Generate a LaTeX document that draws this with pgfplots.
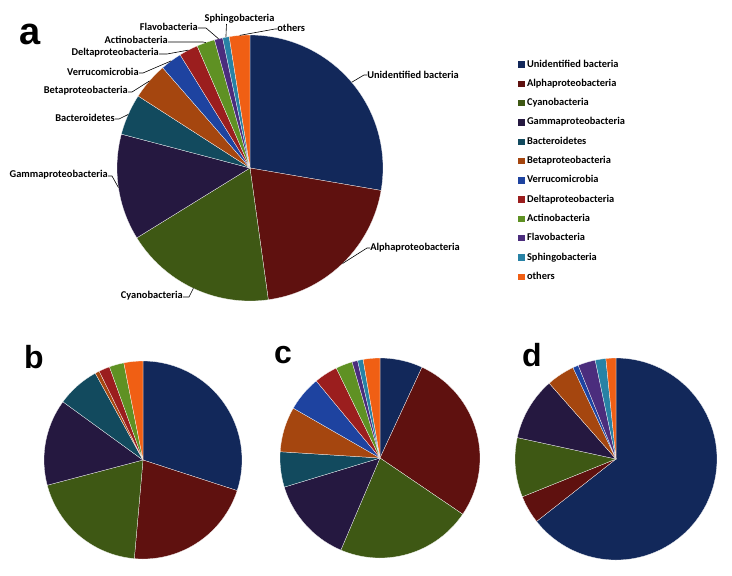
\documentclass[border=0pt]{standalone}
\usepackage{pgfplots}
\pgfplotsset{compat=1.18}
\usepgfplotslibrary{polar}
\usepackage{fontspec}
\setmainfont{Carlito}
\newfontfamily\letterfont{Liberation Sans}

\definecolor{pc1}{RGB}{18,40,90}
\definecolor{pc2}{RGB}{95,17,15}
\definecolor{pc3}{RGB}{62,88,20}
\definecolor{pc4}{RGB}{37,24,64}
\definecolor{pc5}{RGB}{18,74,94}
\definecolor{pc6}{RGB}{165,70,15}
\definecolor{pc7}{RGB}{30,67,160}
\definecolor{pc8}{RGB}{155,30,30}
\definecolor{pc9}{RGB}{95,145,35}
\definecolor{pc10}{RGB}{75,45,125}
\definecolor{pc11}{RGB}{40,130,165}
\definecolor{pc12}{RGB}{240,95,20}

\newcounter{slice}
\newcommand\drawpie[2]{%
  \def\cum{0}\setcounter{slice}{0}%
  \pgfplotsforeachungrouped \pv in {#2}{%
    \stepcounter{slice}%
    \pgfmathsetmacro\aS{90-3.6*\cum}%
    \pgfmathsetmacro\cum{\cum+\pv}%
    \pgfmathsetmacro\aE{90-3.6*\cum}%
    \pgfmathsetmacro\aM{(\aS+\aE)/2}%
    \pgfmathtruncatemacro\ns{abs(\aS-\aE)+3}%
    \edef\doplot{\noexpand\addplot[fill=pc\arabic{slice}, draw=white, line width=0.25pt, domain=\aE:\aS, samples=\ns] {1} -- (axis cs:0,0) -- cycle;
      \noexpand\coordinate (#1\arabic{slice}) at (axis cs:\aM,1);}%
    \ifdim\pv pt>0pt \doplot\fi
  }%
}

\pgfplotsset{pieax/.style={hide axis, scale only axis, ymin=0, ymax=1, xmin=0, xmax=360, anchor=center, clip=false}}

\begin{document}
\begin{tikzpicture}[x=1pt,y=1pt]
\useasboundingbox (0,0) rectangle (732,-576);

% pie a
\begin{polaraxis}[pieax, width=266pt, height=266pt, at={(250pt,-168pt)},
  legend style={at={(1.496,0.914)}, anchor=north west, draw=none, fill=none,
    font=\bfseries\fontsize{10.4}{12}\selectfont, row sep=10.3pt, column sep=2.5pt,
    nodes={inner sep=0pt, text height=7pt, text depth=2pt}},
  legend cell align=left,
  legend image code/.code={\fill[#1, draw=none] (0pt,-3.2pt) rectangle (6.4pt,3.2pt);},
  legend entries={Unidentified bacteria, Alphaproteobacteria, Cyanobacteria, Gammaproteobacteria, Bacteroidetes, Betaproteobacteria, Verrucomicrobia, Deltaproteobacteria, Actinobacteria, Flavobacteria, Sphingobacteria, others}]
\drawpie{pa}{27.7,20.1,18.4,12.9,5.0,4.5,2.6,2.3,2.2,1.0,0.8,2.5}
\end{polaraxis}

% pie b
\begin{polaraxis}[pieax, width=198pt, height=198pt, at={(143pt,-460pt)}]
\drawpie{pb}{30.0,21.4,19.5,14.1,7.0,0.7,0,1.8,2.4,0,0,3.1}
\end{polaraxis}

% pie c
\begin{polaraxis}[pieax, width=200pt, height=200pt, at={(380pt,-458pt)}]
\drawpie{pc}{6.9,27.6,21.9,13.9,5.7,7.3,5.7,3.8,2.7,0.9,0.9,2.7}
\end{polaraxis}

% pie d
\begin{polaraxis}[pieax, width=202pt, height=202pt, at={(616pt,-459pt)}]
\drawpie{pd}{64.4,4.5,9.5,10.1,0,4.5,0.9,0,0,2.8,1.7,1.6}
\end{polaraxis}

% labels of pie a
\begin{scope}[every node/.style={inner sep=0pt, font=\bfseries\fontsize{10.4}{12}\selectfont}, line width=0.6pt]
\node[anchor=west] (l1) at (367,-75) {Unidentified bacteria};
\draw (l1.west) -- ++(-3,0) -- (pa1);
\node[anchor=west] (l2) at (370,-248) {Alphaproteobacteria};
\draw (l2.west) -- ++(-3,0) -- (pa2);
\node[anchor=east] (l3) at (183,-296) {Cyanobacteria};
\draw (l3.east) ++(0,-1) -- ++(6,0) -- (pa3);
\node[anchor=east] (l4) at (108,-175) {Gammaproteobacteria};
\draw (l4.east) ++(0,-1) -- ++(4,0) -- (pa4);
\node[anchor=east] (l5) at (115,-118) {Bacteroidetes};
\draw (l5.east) ++(0,-1) -- ++(4,0) -- (pa5);
\node[anchor=east] (l6) at (128,-91) {Betaproteobacteria};
\draw (l6.east) ++(0,-1) -- ++(4,0) -- (pa6);
\node[anchor=east] (l7) at (139,-72) {Verrucomicrobia};
\draw (l7.east) ++(0,-1) -- ++(4,0) -- (pa7);
\node[anchor=east] (l8) at (159,-53) {Deltaproteobacteria};
\draw (l8.east) ++(0,-1) -- ++(8,0) -- (pa8);
\node[anchor=east] (l9) at (168,-40) {Actinobacteria};
\draw (l9.east) ++(0,-2) -- ++(35,0) -- (pa9);
\node[anchor=east] (l10) at (198,-27) {Flavobacteria};
\draw (l10.east) ++(0,-1) -- ++(8,0) -- (pa10);
\node[anchor=south] (l11) at (239.5,-24) {Sphingobacteria};
\draw (226.5,-24) -- (pa11);
\node[anchor=west] (l12) at (277,-28) {others};
\draw (l12.west) ++(0,-1) -- ++(-2,0) -- (pa12);
\end{scope}

% panel letters
\node[anchor=base west, inner sep=0pt, font=\letterfont\bfseries\fontsize{38}{40}\selectfont] at (19,-44) {a};
\node[anchor=base west, inner sep=0pt, font=\letterfont\bfseries\fontsize{32}{34}\selectfont] at (24,-368) {b};
\node[anchor=base west, inner sep=0pt, font=\letterfont\bfseries\fontsize{32}{34}\selectfont] at (274,-363) {c};
\node[anchor=base west, inner sep=0pt, font=\letterfont\bfseries\fontsize{32}{34}\selectfont] at (522,-366) {d};
\end{tikzpicture}
\end{document}
